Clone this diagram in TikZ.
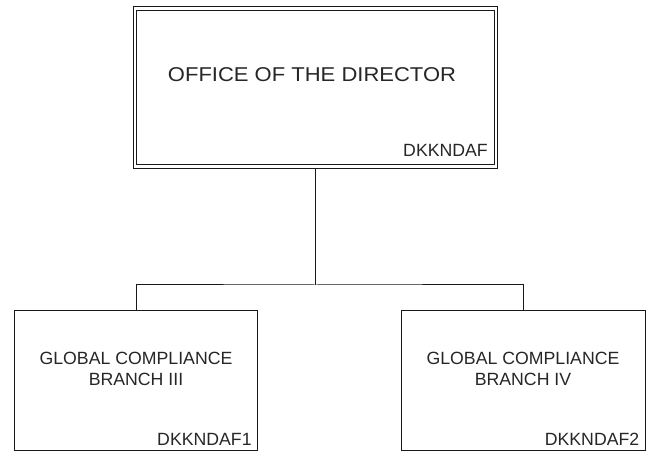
\documentclass[tikz,border=0pt]{standalone}
\usepackage{fontspec}
\setmainfont{Liberation Sans}
\usetikzlibrary{calc}
\begin{document}
\begin{tikzpicture}[x=1pt,y=-1pt,
  line width=1pt,
  linecol/.style={draw=black!90},
  dirbox/.style={rectangle,linecol,minimum width=364.4pt,minimum height=161.6pt,inner sep=0pt,outer sep=0pt},
  branchbox/.style={rectangle,linecol,minimum width=243.5pt,minimum height=139.3pt,inner sep=0pt,outer sep=0pt},
  titletxt/.style={text=black!85,inner sep=0pt,font=\fontsize{20}{24}\selectfont},
  branchtxt/.style={text=black!85,inner sep=0pt,align=center,font=\fontsize{17.7}{20.5}\selectfont},
  codetxt/.style={text=black!85,inner sep=0pt,anchor=base east,font=\fontsize{17.7}{20}\selectfont}
]
\useasboundingbox (0,0) rectangle (648,454);
\node[dirbox] (dir) at (315.5,87.5) {};
\draw[linecol] ($(dir.north west)+(3.5,3.5)$) rectangle ($(dir.south east)+(-3.5,-3.5)$);
\node[branchbox] (b1) at (136,380.35) {};
\node[branchbox] (b2) at (523.6,380.35) {};
\coordinate (bar) at (315.5,285);
\node[titletxt] (t0) at (312,74.6) {\scalebox{1.1}[1]{OFFICE OF THE DIRECTOR}};
\node[branchtxt] (t1) at (136,369) {GLOBAL COMPLIANCE\\BRANCH III};
\node[branchtxt] (t2) at (523,369) {GLOBAL COMPLIANCE\\BRANCH IV};
\node[codetxt] (c0) at ($(dir.south east)+(-9.4,-11.6)$) {DKKNDAF};
\node[codetxt] (c1) at ($(b1.south east)+(-5.6,-4.2)$) {DKKNDAF1};
\node[codetxt] (c2) at ($(b2.south east)+(-5.6,-4.2)$) {DKKNDAF2};
\draw[linecol] (dir.south) -- (bar);
\draw[linecol] (b1.north) |- (bar) -| (b2.north);
\end{tikzpicture}
\end{document}
